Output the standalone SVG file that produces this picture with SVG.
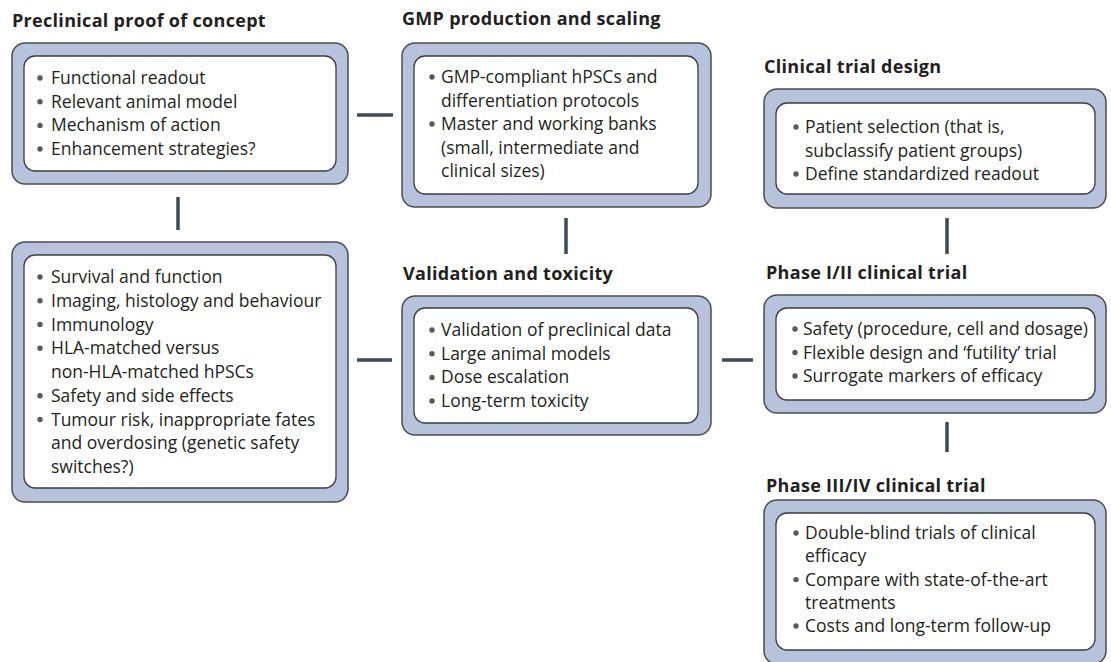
<svg xmlns="http://www.w3.org/2000/svg" width="1111" height="662" viewBox="0 0 1111 662">
<style>
.outer{fill:#b7c2dc;stroke:#4d4d4f;stroke-width:1.5}
.inner{fill:#ffffff;stroke:#3c3c3e;stroke-width:1.3}
.title{font-family:"Open Sans","Liberation Sans",sans-serif;font-weight:bold;font-size:18px;letter-spacing:0.3px;fill:#231f20}
.body{font-family:"Open Sans","Liberation Sans",sans-serif;font-size:17.5px;fill:#231f20}
.conn{stroke:#3b4b57;stroke-width:3.5;fill:none}
</style>
<defs>
<circle id="bul" cx="0" cy="0" r="2.7" fill="#58595b"/>
</defs>
<rect width="1111" height="662" fill="#ffffff"/>
<g id="connectors">
<line class="conn" x1="357" y1="115" x2="393" y2="115"/>
<line class="conn" x1="178" y1="197" x2="178" y2="230"/>
<line class="conn" x1="566" y1="218" x2="566" y2="254"/>
<line class="conn" x1="357" y1="360" x2="392" y2="360"/>
<line class="conn" x1="722" y1="360" x2="753" y2="360"/>
<line class="conn" x1="947" y1="218" x2="947" y2="254"/>
<line class="conn" x1="947" y1="422" x2="947" y2="452"/>
</g>
<g id="preclinical">
<text class="title" x="12" y="27">Preclinical proof of concept</text>
<rect class="outer" x="12" y="43" width="336" height="141" rx="13"/>
<rect class="inner" x="24" y="56" width="312" height="115" rx="11"/>
<use href="#bul" x="40" y="78"/><use href="#bul" x="40" y="101.7"/><use href="#bul" x="40" y="125.4"/><use href="#bul" x="40" y="149"/>
<text class="body"><tspan x="51" y="84">Functional readout</tspan><tspan x="51" y="107.7">Relevant animal model</tspan><tspan x="51" y="131.4">Mechanism of action</tspan><tspan x="51" y="155">Enhancement strategies?</tspan></text>
</g>
<g id="gmp">
<text class="title" x="402" y="25">GMP production and scaling</text>
<rect class="outer" x="402" y="43" width="309" height="164" rx="13"/>
<rect class="inner" x="414" y="56" width="284" height="138" rx="11"/>
<use href="#bul" x="432" y="77"/><use href="#bul" x="432" y="124"/>
<text class="body"><tspan x="441" y="83">GMP-compliant hPSCs and</tspan><tspan x="441" y="106.5">differentiation protocols</tspan><tspan x="441" y="130">Master and working banks</tspan><tspan x="441" y="153.5">(small, intermediate and</tspan><tspan x="441" y="177">clinical sizes)</tspan></text>
</g>
<g id="clinical-design">
<text class="title" x="764" y="73">Clinical trial design</text>
<rect class="outer" x="764" y="89" width="342" height="119" rx="13"/>
<rect class="inner" x="776" y="103" width="319" height="91" rx="11"/>
<use href="#bul" x="796" y="127"/><use href="#bul" x="796" y="174"/>
<text class="body"><tspan x="805" y="133">Patient selection (that is,</tspan><tspan x="805" y="157">subclassify patient groups)</tspan><tspan x="805" y="180">Define standardized readout</tspan></text>
</g>
<g id="preclinical-details">
<rect class="outer" x="12" y="242" width="336" height="260" rx="13"/>
<rect class="inner" x="24" y="255" width="312" height="233" rx="11"/>
<use href="#bul" x="40" y="277"/><use href="#bul" x="40" y="300.7"/><use href="#bul" x="40" y="324.5"/><use href="#bul" x="40" y="348.2"/><use href="#bul" x="40" y="395.7"/><use href="#bul" x="40" y="419.5"/>
<text class="body"><tspan x="51" y="283">Survival and function</tspan><tspan x="51" y="306.7">Imaging, histology and behaviour</tspan><tspan x="51" y="330.5">Immunology</tspan><tspan x="51" y="354.2">HLA-matched versus</tspan><tspan x="51" y="378">non-HLA-matched hPSCs</tspan><tspan x="51" y="401.7">Safety and side effects</tspan><tspan x="51" y="425.5">Tumour risk, inappropriate fates</tspan><tspan x="51" y="449.2">and overdosing (genetic safety</tspan><tspan x="51" y="473">switches?)</tspan></text>
</g>
<g id="validation">
<text class="title" x="403" y="280">Validation and toxicity</text>
<rect class="outer" x="402" y="296" width="309" height="139" rx="13"/>
<rect class="inner" x="414" y="308" width="284" height="115" rx="11"/>
<use href="#bul" x="432" y="330"/><use href="#bul" x="432" y="353.7"/><use href="#bul" x="432" y="377.4"/><use href="#bul" x="432" y="401"/>
<text class="body"><tspan x="441" y="336">Validation of preclinical data</tspan><tspan x="441" y="359.7">Large animal models</tspan><tspan x="441" y="383.4">Dose escalation</tspan><tspan x="441" y="407">Long-term toxicity</tspan></text>
</g>
<g id="phase12">
<text class="title" x="766" y="279">Phase I/II clinical trial</text>
<rect class="outer" x="764" y="295" width="342" height="118" rx="13"/>
<rect class="inner" x="776" y="308" width="319" height="92" rx="11"/>
<use href="#bul" x="795" y="329"/><use href="#bul" x="795" y="352.5"/><use href="#bul" x="795" y="376"/>
<text class="body"><tspan x="803" y="335">Safety (procedure, cell and dosage)</tspan><tspan x="803" y="358.5">Flexible design and ‘futility’ trial</tspan><tspan x="803" y="382">Surrogate markers of efficacy</tspan></text>
</g>
<g id="phase34">
<text class="title" x="766" y="492">Phase III/IV clinical trial</text>
<rect class="outer" x="764" y="500" width="342" height="164" rx="13"/>
<rect class="inner" x="776" y="513" width="319" height="137" rx="11"/>
<use href="#bul" x="796" y="533"/><use href="#bul" x="796" y="579.6"/><use href="#bul" x="796" y="626"/>
<text class="body"><tspan x="805" y="539">Double-blind trials of clinical</tspan><tspan x="805" y="562.3">efficacy</tspan><tspan x="805" y="585.6">Compare with state-of-the-art</tspan><tspan x="805" y="608.8">treatments</tspan><tspan x="805" y="632">Costs and long-term follow-up</tspan></text>
</g>
</svg>
